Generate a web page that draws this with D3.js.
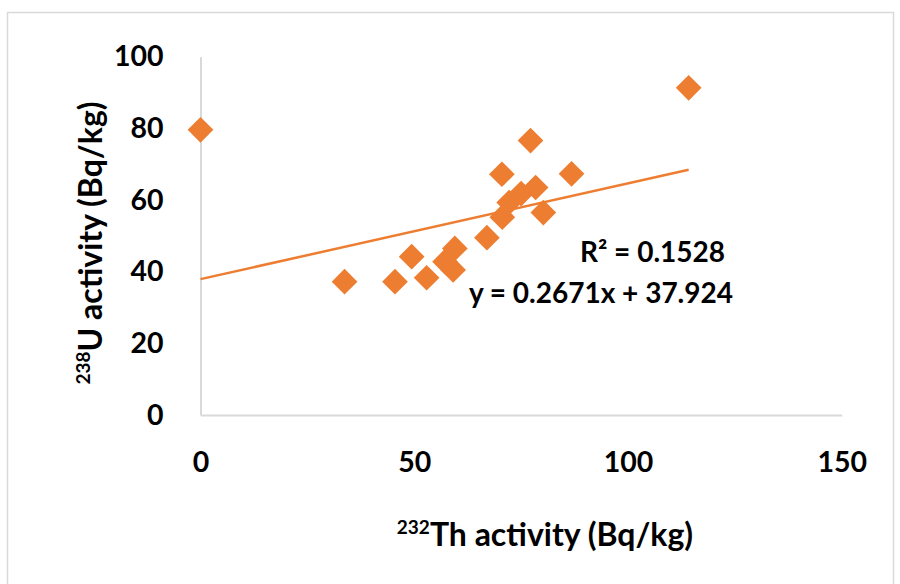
<!DOCTYPE html>
<html>
<head>
<meta charset="utf-8">
<script src="https://cdn.jsdelivr.net/npm/d3@7"></script>
<style>
  html, body { margin: 0; padding: 0; background: #fff; }
  svg { display: block; }
</style>
</head>
<body>
<script>
// ---- data ----
const thActivity = [0, 33.7, 45.5, 49.4, 52.9, 57.2, 59.1, 59.5, 67.0, 70.6, 70.5, 72.2, 75.0, 78.4, 77.2, 80.2, 86.8, 114.2];
const uActivity  = [79.6, 37.2, 37.2, 44.2, 38.3, 42.8, 40.5, 46.5, 49.5, 55.2, 67.2, 59.3, 61.8, 63.5, 76.6, 56.5, 67.3, 91.3];
const xTicks = [0, 50, 100, 150];
const yTicks = [0, 20, 40, 60, 80, 100];
const trendSlope = 0.2671;
const trendIntercept = 37.924;
const r2Label = "R² = 0.1528";
const eqLabel = "y = 0.2671x + 37.924";

const W = 900, H = 584;
const margin = {left: 200.5, right: 58.3, top: 56.7, bottom: 169};
const FONT = "Lato, 'Open Sans', sans-serif";
const ORANGE = "#ED7D31";
const GRAY = "#d9d9d9";

const svg = d3.select("body").append("svg").attr("width", W).attr("height", H);

// outer chart border
svg.append("rect").attr("x", 7.5).attr("y", 12.5).attr("width", 886).attr("height", 590)
  .attr("fill", "#fff").attr("stroke", GRAY).attr("stroke-width", 1.5);

const x = d3.scaleLinear().domain([0, 150]).range([margin.left, W - margin.right]);
const y = d3.scaleLinear().domain([0, 100]).range([H - margin.bottom, margin.top]);

// axes
const xAxis = svg.append("g").attr("transform", `translate(0,${H - margin.bottom})`)
  .call(d3.axisBottom(x).tickValues(xTicks).tickSize(0).tickPadding(37).tickFormat(d3.format("d")));
const yAxis = svg.append("g").attr("transform", `translate(${margin.left},0)`)
  .call(d3.axisLeft(y).tickValues(yTicks).tickSize(0).tickPadding(37).tickFormat(d3.format("d")));

[xAxis, yAxis].forEach(g => {
  g.select(".domain").attr("stroke", GRAY).attr("stroke-width", 2);
  g.selectAll("text").attr("font-family", FONT).attr("font-weight", "bold")
    .attr("font-size", 28.5).attr("fill", "#000");
});

// trendline
const pts = thActivity.map((v, i) => ({x: v, y: uActivity[i]}));
const xExt = d3.extent(thActivity);
svg.append("line")
  .attr("x1", x(xExt[0])).attr("y1", y(trendSlope * xExt[0] + trendIntercept))
  .attr("x2", x(xExt[1])).attr("y2", y(trendSlope * xExt[1] + trendIntercept))
  .attr("stroke", ORANGE).attr("stroke-width", 2.5);

// diamonds
const diamond = d3.symbol().type(d3.symbolSquare).size(330);
svg.append("g").selectAll("path").data(pts).join("path")
  .attr("d", diamond)
  .attr("transform", d => `translate(${x(d.x)},${y(d.y)}) rotate(45)`)
  .attr("fill", ORANGE);

// trendline labels
svg.append("text").attr("x", 725).attr("y", 262).attr("text-anchor", "end")
  .attr("font-family", FONT).attr("font-weight", "bold").attr("font-size", 28)
  .text(r2Label);
svg.append("text").attr("x", 733).attr("y", 303).attr("text-anchor", "end")
  .attr("font-family", FONT).attr("font-weight", "bold").attr("font-size", 28)
  .text(eqLabel);

// x-axis title
const xt = svg.append("text").attr("x", 545).attr("y", 546).attr("text-anchor", "middle")
  .attr("font-family", FONT).attr("font-weight", "bold").attr("font-size", 32);
xt.append("tspan").attr("font-size", 19).attr("dy", -12).text("232");
xt.append("tspan").attr("dy", 12).text("Th activity (Bq/kg)");

// y-axis title
const yt = svg.append("text").attr("transform", "translate(102,243) rotate(-90)")
  .attr("text-anchor", "middle")
  .attr("font-family", FONT).attr("font-weight", "bold").attr("font-size", 32);
yt.append("tspan").attr("font-size", 19).attr("dy", -12).text("238");
yt.append("tspan").attr("dy", 12).text("U activity (Bq/kg)");
</script>
</body>
</html>
